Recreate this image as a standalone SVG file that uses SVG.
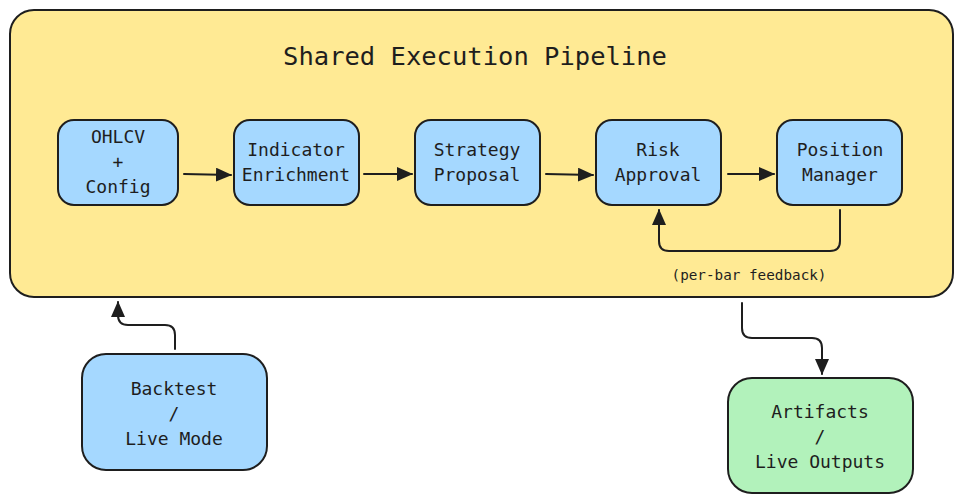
<svg xmlns="http://www.w3.org/2000/svg" width="963" height="504" viewBox="0 0 963 504">
<defs>
<style>
.container{fill:#ffea94;stroke:#1e1e1e;stroke-width:2}
.node{fill:#a5d8ff;stroke:#1e1e1e;stroke-width:2}
.green{fill:#b2f2bb;stroke:#1e1e1e;stroke-width:2}
text{font-family:"DejaVu Sans Mono","Liberation Mono",monospace;fill:#1e1e1e;text-anchor:middle;dominant-baseline:central}
.t{font-size:18px}
.title{font-size:25.5px}
.lbl{font-size:14.3px}
.edge{fill:none;stroke:#1e1e1e;stroke-width:2;stroke-linecap:round;stroke-linejoin:round}
</style>
<marker id="ah" viewBox="0 0 16 14" refX="15" refY="7" markerWidth="8" markerHeight="7" markerUnits="strokeWidth" orient="auto">
<path d="M0,0 L16,7 L0,14 Z" fill="#1e1e1e"/>
</marker>
</defs>
<g id="pipeline">
<rect class="container" x="10" y="10" width="943" height="287" rx="24"/>
<text class="title" x="475" y="56">Shared Execution Pipeline</text>
</g>
<g id="ohlcv">
<rect class="node" x="58" y="120" width="120" height="85" rx="16"/>
<text class="t" x="118" y="136">OHLCV</text>
<text class="t" x="118" y="161">+</text>
<text class="t" x="118" y="186">Config</text>
</g>
<g id="indicator">
<rect class="node" x="234" y="120" width="125" height="85" rx="16"/>
<text class="t" x="296" y="149">Indicator</text>
<text class="t" x="296" y="174">Enrichment</text>
</g>
<g id="strategy">
<rect class="node" x="415" y="120" width="125" height="85" rx="16"/>
<text class="t" x="477" y="149">Strategy</text>
<text class="t" x="477" y="174">Proposal</text>
</g>
<g id="risk">
<rect class="node" x="596" y="120" width="125" height="85" rx="16"/>
<text class="t" x="658" y="149">Risk</text>
<text class="t" x="658" y="174">Approval</text>
</g>
<g id="position">
<rect class="node" x="777" y="120" width="125" height="85" rx="16"/>
<text class="t" x="840" y="149">Position</text>
<text class="t" x="840" y="174">Manager</text>
</g>
<g id="backtest">
<rect class="node" x="82" y="354" width="185" height="116" rx="24"/>
<text class="t" x="174" y="388">Backtest</text>
<text class="t" x="174" y="413">/</text>
<text class="t" x="174" y="438">Live Mode</text>
</g>
<g id="artifacts">
<rect class="green" x="728" y="378" width="185" height="115" rx="24"/>
<text class="t" x="820" y="411">Artifacts</text>
<text class="t" x="820" y="436">/</text>
<text class="t" x="820" y="461">Live Outputs</text>
</g>
<g id="connectors">
<path class="edge" d="M184,174 L231,175" marker-end="url(#ah)"/>
<path class="edge" d="M364,174 L412,174" marker-end="url(#ah)"/>
<path class="edge" d="M546,174 L593,175" marker-end="url(#ah)"/>
<path class="edge" d="M728,174 L774,174" marker-end="url(#ah)"/>
<path class="edge" d="M840,210 L840,241 Q840,251 830,251 L669,251 Q659,251 659,241 L659,210" marker-end="url(#ah)"/>
<text class="lbl" x="749" y="275">(per-bar feedback)</text>
<path class="edge" d="M175,349 L175,335 Q175,325 165,325 L128,325 Q118,325 118,315 L118,302" marker-end="url(#ah)"/>
<path class="edge" d="M742,303 L742,328 Q742,338 752,338 L812,338 Q822,338 822,348 L822,374" marker-end="url(#ah)"/>
</g>
</svg>
